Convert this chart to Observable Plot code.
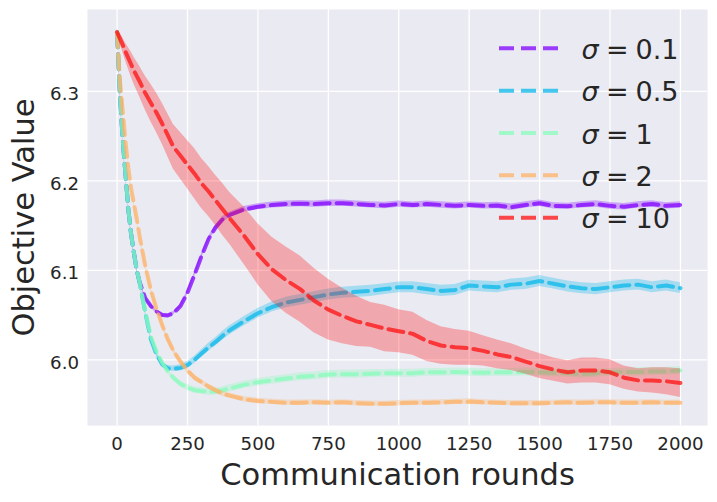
<!DOCTYPE html>
<html>
<head>
<meta charset="utf-8">
<script src="https://cdn.jsdelivr.net/npm/d3@7"></script>
<script src="https://cdn.jsdelivr.net/npm/@observablehq/plot@0.6"></script>
<style>
  html, body { margin: 0; padding: 0; background: white; }
</style>
</head>
<body>
<div id="chart"></div>
<script>
// ---- data ----
const rounds = [0,10,20,30,40,50,60,70,80,100,120,140,160,180,200,225,250,275,300,325,350,375,400,
  450,500,550,600,650,700,750,800,850,900,950,1000,1050,1100,1150,1200,1250,1300,1350,1400,1450,1500,
  1550,1600,1650,1700,1750,1800,1850,1900,1950,2000];

const sigmaLabels = ["0.1", "0.5", "1", "2", "10"];
const colors = ["#8000ff", "#08b8ea", "#88fcba", "#feb265", "#ff1010"];

const mean01 = [6.366,6.297,6.246,6.207,6.168,6.140,6.119,6.100,6.087,
  6.069,6.060,6.054,6.050,6.0495,6.052,
  6.060,6.075,6.095,6.116,6.135,6.148,6.157,6.162,
  6.168,6.171,6.173,6.174,6.1745,6.174,6.175,6.175,6.174,6.173,6.1725,6.174,6.173,6.174,6.173,6.172,
  6.173,6.172,6.1725,6.1705,6.173,6.175,6.172,6.1715,6.173,6.174,6.172,6.171,6.173,6.174,6.172,6.173];
const sd01 = [0.001,0.0015,0.0015,0.0015,0.0015,0.0015,0.0015,0.0015,0.0018,
  0.002,0.002,0.002,0.002,0.002,0.002,
  0.0022,0.0024,0.0025,0.0026,0.0028,0.003,0.003,0.003,
  0.0032,0.0033,0.0034,0.0035,0.0034,0.0035,0.0036,0.0035,0.0034,0.0035,0.0036,0.0035,0.0034,0.0035,
  0.0036,0.0035,0.0034,0.0035,0.0036,0.0037,0.0035,0.0036,0.0035,0.0034,0.0035,0.0036,0.0037,0.0036,
  0.0035,0.0036,0.0035,0.0036];

const mean05 = [6.366,6.297,6.246,6.207,6.168,6.140,6.119,6.100,6.086,
  6.053,6.023,6.006,5.995,5.9905,5.990,
  5.991,5.994,6.000,6.007,6.014,6.020,6.027,6.033,
  6.043,6.052,6.059,6.064,6.067,6.070,6.073,6.075,6.076,6.077,6.079,6.081,6.081,6.079,6.077,6.078,
  6.083,6.082,6.081,6.084,6.085,6.088,6.085,6.082,6.080,6.079,6.081,6.083,6.084,6.081,6.083,6.080];
const sd05 = [0.001,0.0015,0.0015,0.0015,0.0015,0.0015,0.0015,0.0015,0.0018,
  0.002,0.0022,0.0025,0.0028,0.003,0.0032,
  0.0035,0.0037,0.004,0.0042,0.0044,0.0046,0.0048,0.005,
  0.0052,0.0054,0.0056,0.0058,0.006,0.006,0.0062,0.0062,0.0063,0.0062,0.0061,0.006,0.0062,0.0063,
  0.0064,0.0062,0.006,0.0061,0.0062,0.0063,0.0064,0.0062,0.006,0.0061,0.0062,0.0063,0.0062,0.0061,
  0.006,0.0062,0.0061,0.006];

const mean1 = [6.366,6.297,6.246,6.207,6.168,6.140,6.119,6.100,6.087,
  6.054,6.026,6.009,5.997,5.987,5.980,
  5.973,5.969,5.966,5.965,5.964,5.9645,5.966,5.968,
  5.972,5.975,5.977,5.979,5.981,5.982,5.9835,5.984,5.984,5.9845,5.985,5.985,5.985,5.986,5.986,5.9865,
  5.986,5.9855,5.986,5.986,5.9865,5.986,5.9855,5.985,5.984,5.985,5.986,5.9865,5.9865,5.987,5.987,5.988];
const sd1 = [0.001,0.0015,0.0015,0.0015,0.0015,0.0015,0.0015,0.0015,0.0018,
  0.002,0.0022,0.0024,0.0026,0.0028,0.003,
  0.0032,0.0034,0.0035,0.0036,0.0037,0.0038,0.0039,0.004,
  0.0041,0.0042,0.0043,0.0043,0.0044,0.0044,0.0045,0.0044,0.0045,0.0044,0.0043,0.0044,0.0045,0.0044,
  0.0043,0.0044,0.0045,0.0044,0.0043,0.0044,0.0045,0.0044,0.0043,0.0044,0.0045,0.0044,0.0043,0.0044,
  0.0045,0.0044,0.0043,0.0044];

const mean2 = [6.366,6.312,6.278,6.243,6.214,6.191,6.174,6.157,6.138,
  6.105,6.078,6.057,6.039,6.023,6.010,
  5.998,5.988,5.980,5.975,5.970,5.966,5.962,5.960,
  5.956,5.954,5.953,5.952,5.952,5.9525,5.952,5.9525,5.9515,5.951,5.9508,5.9515,5.952,5.952,5.9525,5.953,
  5.9533,5.9525,5.952,5.9515,5.9515,5.9515,5.952,5.9525,5.952,5.9525,5.9525,5.952,5.952,5.9525,5.952,5.952];
const sd2 = [0.001,0.0015,0.0018,0.002,0.002,0.0022,0.0022,0.0024,0.0024,
  0.0026,0.0027,0.0028,0.0029,0.003,0.003,
  0.003,0.003,0.003,0.003,0.003,0.003,0.003,0.003,
  0.0031,0.003,0.0029,0.003,0.0031,0.003,0.0029,0.003,0.0031,0.003,0.0029,0.003,0.0031,0.003,
  0.0029,0.003,0.0031,0.003,0.0029,0.003,0.0031,0.003,0.0029,0.003,0.0031,0.003,0.0029,0.003,
  0.0031,0.003,0.0029,0.003];

const mean10 = [6.366,6.359,6.352,6.344,6.337,6.330,6.323,6.317,6.311,
  6.298,6.287,6.276,6.264,6.251,6.238,
  6.228,6.218,6.208,6.197,6.188,6.178,6.168,6.158,
  6.139,6.118,6.101,6.089,6.079,6.066,6.056,6.049,6.043,6.039,6.035,6.032,6.029,6.021,6.016,6.014,
  6.013,6.010,6.006,6.003,5.998,5.993,5.989,5.986,5.988,5.988,5.986,5.980,5.977,5.977,5.976,5.974];
const sd10 = [0.003,0.006,0.008,0.010,0.012,0.014,0.015,0.016,0.017,
  0.019,0.021,0.022,0.023,0.024,0.025,
  0.026,0.027,0.028,0.028,0.028,0.028,0.029,0.029,
  0.032,0.034,0.036,0.037,0.037,0.036,0.034,0.031,0.028,0.025,0.026,0.024,0.024,0.023,0.021,0.020,
  0.019,0.017,0.016,0.015,0.014,0.014,0.013,0.013,0.014,0.014,0.014,0.013,0.013,0.014,0.015,0.016];

const xTicks = [0, 250, 500, 750, 1000, 1250, 1500, 1750, 2000];
const yTicks = [6.0, 6.1, 6.2, 6.3];
const xLabel = "Communication rounds";
const yLabel = "Objective Value";

// ---- build tables ----
const means = [mean01, mean05, mean1, mean2, mean10];
const sds = [sd01, sd05, sd1, sd2, sd10];
const tables = means.map((m, i) => rounds.map((r, j) => ({
  round: r, mean: m[j], lo: m[j] - sds[i][j], hi: m[j] + sds[i][j], sigma: sigmaLabels[i]
})));

const font = "'DejaVu Sans', sans-serif";
const textColor = "#262626";

const marks = [
  Plot.frame({fill: "#EAEAF2", stroke: "none"}),
  Plot.gridX(xTicks, {stroke: "white", strokeOpacity: 1, strokeWidth: 1.3}),
  Plot.gridY(yTicks, {stroke: "white", strokeOpacity: 1, strokeWidth: 1.3})
];
tables.forEach((t, i) => {
  marks.push(Plot.areaY(t, {x: "round", y1: "lo", y2: "hi", fill: colors[i], fillOpacity: 0.3}));
  marks.push(Plot.line(t, {x: "round", y: "mean", stroke: colors[i], strokeOpacity: 0.75,
    strokeWidth: 4, strokeDasharray: "15,7"}));
});
marks.push(
  Plot.axisX(xTicks, {tickSize: 0, tickPadding: 12, fontSize: 18.2, fill: textColor,
    tickFormat: d => String(d), label: null}),
  Plot.axisY(yTicks, {tickSize: 0, tickPadding: 8.5, fontSize: 18.2, fill: textColor, dy: 3,
    tickFormat: d => d.toFixed(1), label: null}),
  Plot.text([xLabel], {text: d => d, frameAnchor: "bottom", textAnchor: "middle", lineAnchor: "middle",
    dy: 50, fontSize: 30.5, fill: textColor}),
  Plot.text([yLabel], {text: d => d, frameAnchor: "left", textAnchor: "middle", lineAnchor: "middle",
    rotate: -90, dx: -63, fontSize: 30.5, fill: textColor})
);

const svg = Plot.plot({
  width: 717,
  height: 502,
  marginLeft: 87,
  marginRight: 10,
  marginTop: 9,
  marginBottom: 77,
  x: {domain: [-105, 2096]},
  y: {domain: [5.9266, 6.3914]},
  style: {fontFamily: font, fontSize: "18.2px", color: textColor, background: "white", overflow: "visible"},
  marks
});

// ---- legend (inside the plot, upper right) ----
const g = d3.select(svg).append("g")
  .attr("text-anchor", "start")
  .style("font-family", font).style("font-size", "27px").attr("fill", textColor);
sigmaLabels.forEach((s, i) => {
  const y = 48.3 + 42.35 * i;
  g.append("line")
    .attr("x1", 499).attr("x2", 558).attr("y1", y).attr("y2", y)
    .attr("stroke", colors[i]).attr("stroke-opacity", 0.75)
    .attr("stroke-width", 4).attr("stroke-dasharray", "15,7");
  g.append("text").attr("x", 581.5).attr("y", y + 10.5).attr("text-anchor", "start")
    .style("font-style", "italic").text("σ");
  g.append("text").attr("x", 606).attr("y", y + 10.5).attr("text-anchor", "start").text("=");
  g.append("text").attr("x", 635.5).attr("y", y + 10.5).attr("text-anchor", "start").text(s);
});

document.getElementById("chart").appendChild(svg);
</script>
</body>
</html>
